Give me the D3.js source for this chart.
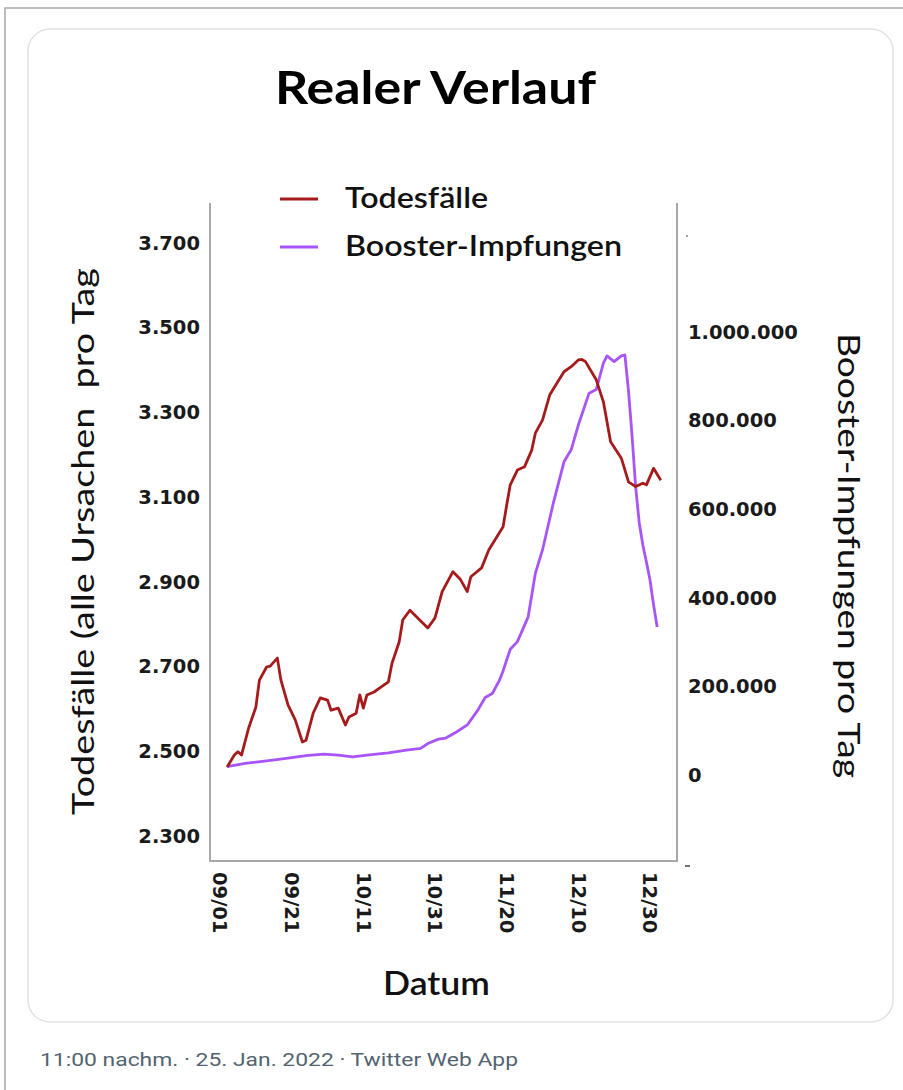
<!DOCTYPE html>
<html>
<head>
<meta charset="utf-8">
<script src="https://cdn.jsdelivr.net/npm/d3@7"></script>
<style>
  body { margin: 0; background: #fff; }
</style>
</head>
<body>
<script>

/* DATEN */

// Todesfälle (alle Ursachen) pro Tag
var todesDaten = ["2021-09-03", "2021-09-05", "2021-09-06", "2021-09-07", "2021-09-09", "2021-09-11", "2021-09-12", "2021-09-14",
  "2021-09-15", "2021-09-17", "2021-09-18", "2021-09-20", "2021-09-22", "2021-09-24", "2021-09-25", "2021-09-27", "2021-09-29",
  "2021-10-01", "2021-10-02", "2021-10-04", "2021-10-06", "2021-10-07", "2021-10-09", "2021-10-10", "2021-10-11", "2021-10-12",
  "2021-10-14", "2021-10-16", "2021-10-18", "2021-10-19", "2021-10-21", "2021-10-22", "2021-10-24", "2021-10-29", "2021-10-31",
  "2021-11-02", "2021-11-05", "2021-11-07", "2021-11-09", "2021-11-10", "2021-11-13", "2021-11-15", "2021-11-19", "2021-11-20",
  "2021-11-21", "2021-11-23", "2021-11-25", "2021-11-27", "2021-11-28", "2021-11-30", "2021-12-02", "2021-12-04", "2021-12-06",
  "2021-12-08", "2021-12-10", "2021-12-11", "2021-12-12", "2021-12-15", "2021-12-17", "2021-12-19", "2021-12-22", "2021-12-24",
  "2021-12-26", "2021-12-28", "2021-12-29", "2021-12-31", "2022-01-02"]
var todesWerte = [2463, 2491, 2499, 2491, 2555, 2604, 2668, 2699,
  2701, 2720, 2668, 2609, 2574, 2522, 2526, 2590, 2626,
  2621, 2597, 2602, 2562, 2581, 2590, 2633, 2602, 2633,
  2640, 2652, 2664, 2708, 2758, 2810, 2833, 2791, 2815,
  2877, 2924, 2907, 2877, 2912, 2933, 2975, 3030, 3081,
  3129, 3164, 3172, 3211, 3251, 3282, 3341, 3369, 3396,
  3408, 3424, 3425, 3420, 3377, 3325, 3231, 3192, 3136,
  3125, 3133, 3129, 3168, 3140]

// Booster-Impfungen pro Tag
var boosterDaten = ["2021-09-03", "2021-09-08", "2021-09-14", "2021-09-20", "2021-09-25", "2021-09-30", "2021-10-04", "2021-10-08",
  "2021-10-12", "2021-10-18", "2021-10-23", "2021-10-27", "2021-10-29", "2021-11-01", "2021-11-03", "2021-11-06", "2021-11-09",
  "2021-11-12", "2021-11-14", "2021-11-16", "2021-11-18", "2021-11-19", "2021-11-21", "2021-11-23", "2021-11-26", "2021-11-28",
  "2021-11-30", "2021-12-03", "2021-12-06", "2021-12-08", "2021-12-10", "2021-12-13", "2021-12-15", "2021-12-17", "2021-12-18",
  "2021-12-20", "2021-12-22", "2021-12-23", "2021-12-24", "2021-12-25", "2021-12-26", "2021-12-27", "2021-12-28", "2021-12-29",
  "2021-12-30", "2021-12-31", "2022-01-01"]
var boosterWerte = [19000, 26000, 32000, 38000, 43500, 47000, 45000, 41000,
  45000, 50000, 56000, 60000, 71000, 81000, 83500, 97000, 113000,
  147000, 175000, 184000, 214000, 235000, 284000, 301000, 357000, 455000,
  508000, 613000, 707000, 734000, 790000, 862000, 870000, 930000, 946000,
  933000, 946000, 948000, 867000, 765000, 650000, 569000, 519000, 481000,
  440000, 384000, 334000]

var datumTicks = ["2021-09-01", "2021-09-21", "2021-10-11", "2021-10-31", "2021-11-20", "2021-12-10", "2021-12-30"]
var linksTicks = [2300, 2500, 2700, 2900, 3100, 3300, 3500, 3700]
var rechtsTicks = [0, 200000, 400000, 600000, 800000, 1000000]

/* HILFSMITTEL */

var parse = d3.timeParse("%Y-%m-%d")
var de = d3.formatLocale({decimal: ",", thousands: ".", grouping: [3], currency: ["", " €"]})
var zahl = de.format(",d")

var calibri = "Lato, 'Open Sans', sans-serif"
var tickFont = "'DejaVu Sans', Verdana, sans-serif"

var todes = todesDaten.map(function(d, i){ return {datum: parse(d), wert: todesWerte[i]} })
var booster = boosterDaten.map(function(d, i){ return {datum: parse(d), wert: boosterWerte[i]} })

/* SVG + RAHMEN */

var svg = d3.select("body").append("svg")
  .attr("width", 903)
  .attr("height", 1090)

svg.append("path")
  .attr("d", "M5,1090V8H903")
  .attr("fill", "none")
  .attr("stroke", "#a6a6a6")
  .attr("stroke-width", 1.5)

svg.append("rect")
  .attr("x", 28).attr("y", 29)
  .attr("width", 865).attr("height", 993)
  .attr("rx", 22)
  .attr("fill", "#fff")
  .attr("stroke", "#e2e2e2")
  .attr("stroke-width", 1.5)

/* SKALEN */

var xLinks = 210, xRechts = 677, yOben = 203, yUnten = 861

var x = d3.scaleTime()
  .domain([parse("2021-09-01"), parse("2021-12-30")])
  .range([220, 650])

var yL = d3.scaleLinear().domain([2300, 3700]).range([836, 243])
var yR = d3.scaleLinear().domain([0, 1000000]).range([775, 332])

/* ACHSEN */

var gx = svg.append("g")
  .attr("transform", "translate(0," + yUnten + ")")
  .call(d3.axisBottom(x).tickValues(datumTicks.map(parse)).tickFormat(d3.timeFormat("%m/%d")).tickSize(0))
gx.select(".domain").remove()
gx.selectAll("text")
  .attr("transform", "rotate(90)")
  .attr("x", 11)
  .attr("y", 0)
  .attr("dy", "0.36em")
  .attr("text-anchor", "start")

var gl = svg.append("g")
  .attr("transform", "translate(" + xLinks + ",0)")
  .call(d3.axisLeft(yL).tickValues(linksTicks).tickFormat(zahl).tickSize(0).tickPadding(10))
gl.select(".domain").remove()

var gr = svg.append("g")
  .attr("transform", "translate(" + xRechts + ",0)")
  .call(d3.axisRight(yR).tickValues(rechtsTicks).tickFormat(zahl).tickSize(0).tickPadding(11))
gr.select(".domain").remove()

;[gx, gl, gr].forEach(function(g){
  g.attr("font-family", tickFont)
    .attr("font-size", 19.5)
    .attr("font-weight", "bold")
  g.selectAll("text").attr("fill", "#1a1a1a")
})

// kleine Reste am rechten Rand
svg.append("line")
  .attr("x1", 686).attr("x2", 688)
  .attr("y1", 236).attr("y2", 236)
  .attr("stroke", "#888").attr("stroke-width", 1.5)
svg.append("line")
  .attr("x1", 685).attr("x2", 690)
  .attr("y1", 866).attr("y2", 866)
  .attr("stroke", "#444").attr("stroke-width", 1.5)

// Kasten (oben offen)
svg.append("path")
  .attr("d", "M" + xLinks + "," + yOben + "V" + yUnten + "H" + xRechts + "V" + yOben)
  .attr("fill", "none")
  .attr("stroke", "#a8a8a8")
  .attr("stroke-width", 2)

/* LINIEN */

var rot = "#a51b1b"
var lila = "#a855f7"

svg.append("path")
  .datum(booster)
  .attr("fill", "none")
  .attr("stroke", lila)
  .attr("stroke-width", 2.8)
  .attr("stroke-linejoin", "round")
  .attr("d", d3.line().x(function(d){ return x(d.datum) }).y(function(d){ return yR(d.wert) }))

svg.append("path")
  .datum(todes)
  .attr("fill", "none")
  .attr("stroke", rot)
  .attr("stroke-width", 2.8)
  .attr("stroke-linejoin", "round")
  .attr("d", d3.line().x(function(d){ return x(d.datum) }).y(function(d){ return yL(d.wert) }))

/* LEGENDE */

var legende = [{name: "Todesfälle", farbe: rot, y: 199, breite: 143}, {name: "Booster-Impfungen", farbe: lila, y: 247, breite: 277}]

legende.forEach(function(l){
  svg.append("line")
    .attr("x1", 280).attr("x2", 318)
    .attr("y1", l.y).attr("y2", l.y)
    .attr("stroke", l.farbe)
    .attr("stroke-width", 3)
  svg.append("text")
    .attr("x", 345).attr("y", l.y + 9)
    .attr("font-family", calibri)
    .attr("font-size", 28)
    .attr("font-weight", 600)
    .attr("fill", "#111")
    .attr("textLength", l.breite)
    .attr("lengthAdjust", "spacingAndGlyphs")
    .text(l.name)
})

/* TITEL */

svg.append("text")
  .attr("x", 275).attr("y", 104)
  .attr("font-family", calibri)
  .attr("font-size", 45)
  .attr("font-weight", "bold")
  .attr("fill", "#000")
  .attr("textLength", 321)
  .attr("lengthAdjust", "spacingAndGlyphs")
  .text("Realer Verlauf")

svg.append("text")
  .attr("transform", "translate(83,815) rotate(-90)")
  .attr("dy", "0.35em")
  .attr("font-family", calibri)
  .attr("font-size", 30)
  .attr("fill", "#111")
  .attr("textLength", 547)
  .attr("lengthAdjust", "spacingAndGlyphs")
  .style("white-space", "pre")
  .text("Todesfälle (alle Ursachen  pro Tag")

svg.append("text")
  .attr("transform", "translate(848,333) rotate(90)")
  .attr("dy", "0.35em")
  .attr("font-family", calibri)
  .attr("font-size", 30)
  .attr("fill", "#111")
  .attr("textLength", 445)
  .attr("lengthAdjust", "spacingAndGlyphs")
  .text("Booster-Impfungen pro Tag")

svg.append("text")
  .attr("x", 383).attr("y", 995)
  .attr("font-family", calibri)
  .attr("font-size", 32)
  .attr("font-weight", 600)
  .attr("fill", "#111")
  .attr("textLength", 107)
  .attr("lengthAdjust", "spacingAndGlyphs")
  .text("Datum")

/* FUSSZEILE */

svg.append("text")
  .attr("x", 40).attr("y", 1066)
  .attr("font-family", "Roboto, 'Liberation Sans', sans-serif")
  .attr("font-size", 19)
  .attr("fill", "#536471")
  .attr("textLength", 478)
  .attr("lengthAdjust", "spacingAndGlyphs")
  .text("11:00 nachm. · 25. Jan. 2022 · Twitter Web App")

</script>
</body>
</html>
